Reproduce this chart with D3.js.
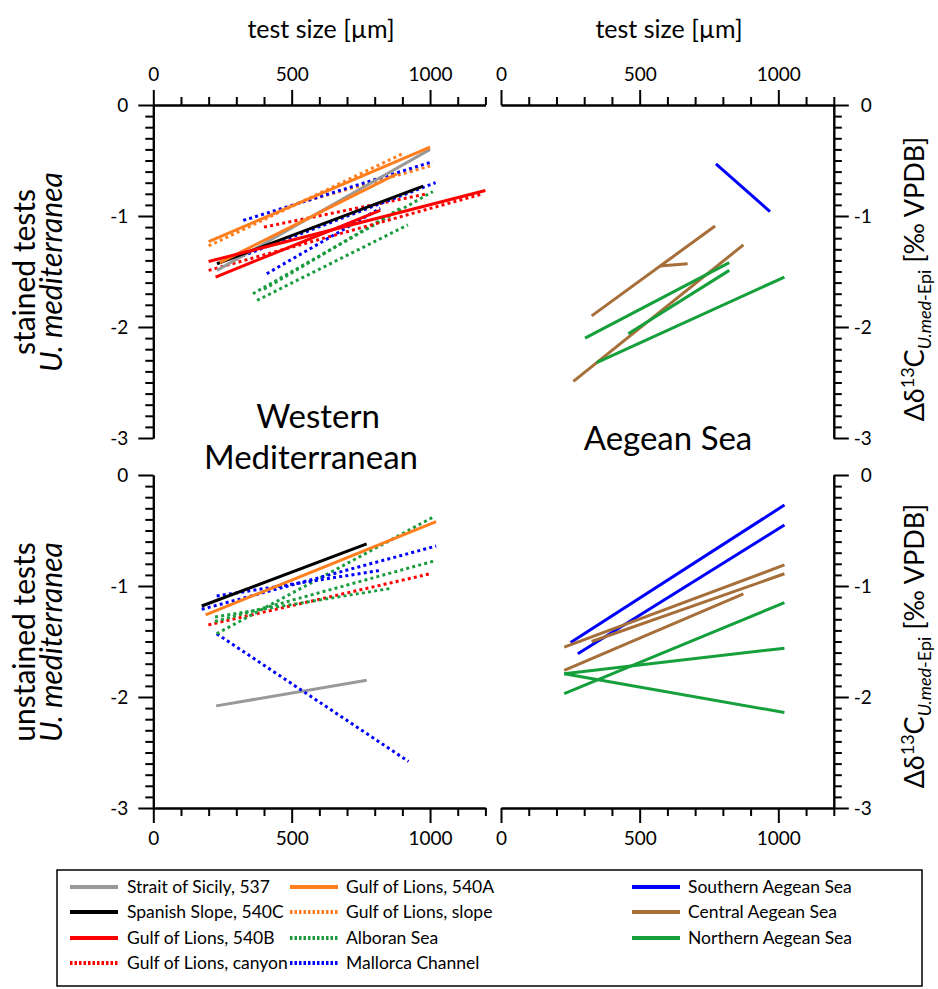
<!DOCTYPE html>
<html><head><meta charset="utf-8">
<script src="https://cdn.jsdelivr.net/npm/d3@7"></script>
<style>
body{margin:0;background:#fff}
svg text{font-family:Lato,"Open Sans",sans-serif;fill:#000}
</style></head><body>
<svg id="c" width="938" height="989"></svg>
<script>
// ---------- data ----------
const seriesNames = ["Strait of Sicily, 537","Spanish Slope, 540C","Gulf of Lions, 540B","Gulf of Lions, canyon",
  "Gulf of Lions, 540A","Gulf of Lions, slope","Alboran Sea","Mallorca Channel",
  "Southern Aegean Sea","Central Aegean Sea","Northern Aegean Sea"];
const xMajorTicks = [0, 500, 1000];
const yMajorTicks = [0, -1, -2, -3];
const regionLabels = [["Western","Mediterranean"],["Aegean Sea"]];
const rowLabels = [["stained tests","U. mediterranea"],["unstained tests","U. mediterranea"]];

// segments: [series index, size1, d13C1, size2, d13C2]
const westStained = [
  [6, 360,-1.70, 1010,-0.78], [6, 375,-1.76, 920,-1.08], [6, 400,-1.66, 900,-0.92],
  [3, 400,-1.10, 990,-0.80], [3, 200,-1.49, 1190,-0.80],
  [5, 200,-1.27, 900,-0.44], [5, 560,-0.86, 1000,-0.55],
  [7, 325,-1.04, 1010,-0.51], [7, 300,-1.38, 1020,-0.70], [7, 410,-1.52, 820,-0.93],
  [0, 230,-1.49, 1000,-0.40],
  [1, 230,-1.43, 975,-0.73],
  [4, 200,-1.23, 1000,-0.38], [4, 240,-1.42, 880,-0.62],
  [2, 200,-1.41, 1200,-0.77], [2, 225,-1.55, 820,-0.95]
];
const aegeanStained = [
  [8, 775,-0.53, 970,-0.96],
  [9, 327,-1.90, 772,-1.09], [9, 573,-1.45, 673,-1.43], [9, 261,-2.49, 874,-1.26],
  [10, 303,-2.10, 823,-1.42], [10, 459,-2.06, 823,-1.49], [10, 345,-2.32, 1022,-1.55]
];
const westUnstained = [
  [0, 227,-2.08, 771,-1.85],
  [7, 229,-1.43, 922,-2.58],
  [3, 199,-1.35, 1000,-0.89],
  [6, 229,-1.43, 1018,-0.37], [6, 223,-1.32, 1022,-0.77], [6, 223,-1.28, 862,-1.02],
  [7, 175,-1.21, 1022,-0.64], [7, 229,-1.09, 819,-0.86],
  [1, 175,-1.18, 771,-0.62],
  [4, 189,-1.26, 1022,-0.42]
];
const aegeanUnstained = [
  [8, 251,-1.51, 1022,-0.27], [8, 277,-1.61, 1022,-0.45],
  [9, 228,-1.55, 1022,-0.81], [9, 327,-1.50, 1022,-0.89], [9, 228,-1.76, 874,-1.07],
  [10, 228,-1.97, 1022,-1.15], [10, 228,-1.79, 1022,-1.56], [10, 228,-1.79, 1022,-2.14]
];

// ---------- style ----------
const seriesColors = ["#999999","#000000","#ff0000","#ff0000","#ff7f1e","#ff7f1e","#1a9c3e","#0000ff","#0000ff","#a66f3a","#15a03c"];
const seriesDotted = [false,false,false,true,false,true,true,true,false,false,false];

const svg = d3.select("#c");
const xL = d3.scaleLinear().domain([0,1200]).range([153.3,485.4]);
const xR = d3.scaleLinear().domain([0,1200]).range([501,833.8]);
const yT = d3.scaleLinear().domain([0,-3]).range([105,438]);
const yB = d3.scaleLinear().domain([0,-3]).range([475,808]);

const xMinor = d3.range(1,13).map(i=>i*100).filter(v=>v%500!==0);
const yMinor = d3.range(1,30).filter(i=>i%10!==0).map(i=>-i/10);

function styleAxis(g){
  g.selectAll("path,line").attr("stroke","#000").attr("stroke-width",2);
  g.selectAll("text").attr("font-size",19).attr("font-family","Lato, sans-serif").attr("fill","#000");
}
function xAxis(scale, orient, y){
  const mk = orient==="top" ? d3.axisTop : d3.axisBottom;
  const g1 = svg.append("g").attr("transform",`translate(0,${y})`)
    .call(mk(scale).tickValues(xMinor).tickSize(8).tickSizeOuter(0).tickFormat(""));
  styleAxis(g1);
  const g2 = svg.append("g").attr("transform",`translate(0,${y})`)
    .call(mk(scale).tickValues(xMajorTicks).tickSize(15).tickSizeOuter(0).tickPadding(9).tickFormat(d3.format("d")));
  styleAxis(g2);
}
function yAxis(scale, orient, x){
  const mk = orient==="left" ? d3.axisLeft : d3.axisRight;
  const g1 = svg.append("g").attr("transform",`translate(${x},0)`)
    .call(mk(scale).tickValues(yMinor).tickSize(8).tickSizeOuter(0).tickFormat(""));
  styleAxis(g1);
  const g2 = svg.append("g").attr("transform",`translate(${x},0)`)
    .call(mk(scale).tickValues(yMajorTicks).tickSize(15).tickSizeOuter(0).tickPadding(10).tickFormat(d=>d===0?"0":"-"+Math.abs(d)));
  styleAxis(g2);
  if(orient==="right") g2.selectAll("text").attr("text-anchor","end").attr("x",38);
}

// axes
xAxis(xL,"top",105); xAxis(xR,"top",105);
xAxis(xL,"bottom",808); xAxis(xR,"bottom",808);
yAxis(yT,"left",153.3); yAxis(yB,"left",153.3);
yAxis(yT,"right",833.8); yAxis(yB,"right",833.8);

// data lines
const line = d3.line();
function drawPanel(data, xs, ys){
  const g = svg.append("g");
  g.selectAll("path").data(data).join("path")
    .attr("d", d => line([[xs(d[1]),ys(d[2])],[xs(d[3]),ys(d[4])]]))
    .attr("fill","none")
    .attr("stroke", d => seriesColors[d[0]])
    .attr("stroke-width", 3)
    .attr("stroke-dasharray", d => seriesDotted[d[0]] ? "3,3.2" : null);
}
drawPanel(westStained, xL, yT);
drawPanel(aegeanStained, xR, yT);
drawPanel(westUnstained, xL, yB);
drawPanel(aegeanUnstained, xR, yB);

// axis titles
[321, 669].forEach(cx=>{
  svg.append("text").attr("x",cx).attr("y",38).attr("text-anchor","middle")
    .attr("font-size",25).text("test size [µm]");
});

// region labels
svg.append("text").attr("x",318).attr("y",428).attr("text-anchor","middle").attr("font-size",33).text(regionLabels[0][0]);
svg.append("text").attr("x",311).attr("y",469).attr("text-anchor","middle").attr("font-size",33).text(regionLabels[0][1]);
svg.append("text").attr("x",668).attr("y",450).attr("text-anchor","middle").attr("font-size",33).text(regionLabels[1][0]);

// row labels (left)
[[272, rowLabels[0]],[642, rowLabels[1]]].forEach(([cy, lab])=>{
  svg.append("text").attr("transform",`translate(35,${cy}) rotate(-90)`).attr("text-anchor","middle")
    .attr("font-size",30).text(lab[0]);
  svg.append("text").attr("transform",`translate(62,${cy}) rotate(-90)`).attr("text-anchor","middle")
    .attr("font-size",30).attr("font-style","italic").text(lab[1]);
});

// right y labels
[279, 646].forEach(cy=>{
  const t = svg.append("text").attr("transform",`translate(924,${cy}) rotate(-90)`).attr("text-anchor","middle")
    .attr("font-size",27);
  t.append("tspan").text("Δδ");
  t.append("tspan").attr("font-size",18).attr("dy",-10).text("13");
  t.append("tspan").attr("dy",10).text("C");
  t.append("tspan").attr("font-size",18).attr("dy",7).attr("font-style","italic").text("U.med");
  t.append("tspan").attr("font-size",18).text("-Epi");
  t.append("tspan").attr("dy",-7).text(" [‰ VPDB]");
});

// legend
svg.append("rect").attr("x",57).attr("y",870).attr("width",865).attr("height",116)
  .attr("fill","none").attr("stroke","#000").attr("stroke-width",1.5);
const legCols = [[70,127],[290,346],[632,688]];
const legRows = [887,912,938,963];
const legItems = seriesNames.map((n,i)=>{
  const col = i<4?0:(i<8?1:2);
  const row = i<4?i:(i<8?i-4:i-8);
  return {n,i,col,row};
});
const lg = svg.append("g");
lg.selectAll("line").data(legItems).join("line")
  .attr("x1",d=>legCols[d.col][0]).attr("x2",d=>legCols[d.col][0]+48)
  .attr("y1",d=>legRows[d.row]).attr("y2",d=>legRows[d.row])
  .attr("stroke",d=>seriesColors[d.i]).attr("stroke-width",4)
  .attr("stroke-dasharray",d=>seriesDotted[d.i]?"2.5,2":null);
lg.selectAll("text").data(legItems).join("text")
  .attr("x",d=>legCols[d.col][1]).attr("y",d=>legRows[d.row]+6)
  .attr("font-size",17.5).text(d=>d.n);
</script>
</body></html>
